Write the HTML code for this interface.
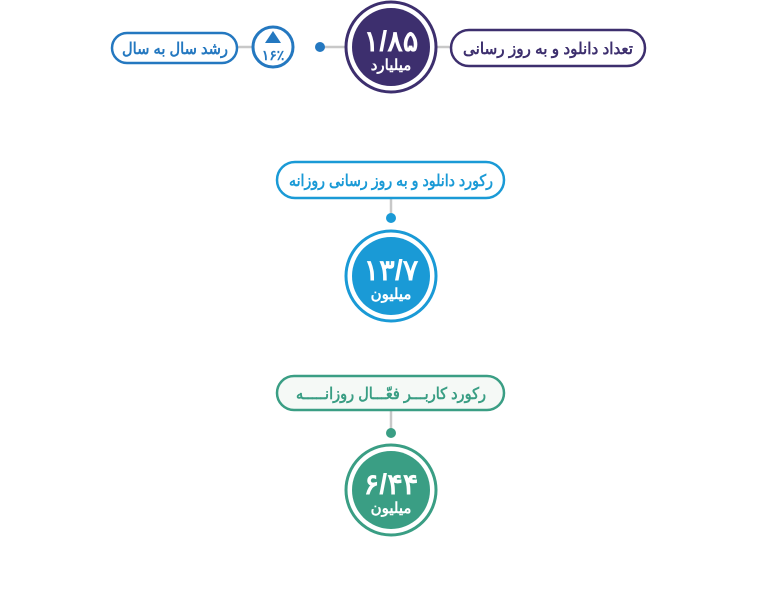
<!DOCTYPE html>
<html><head><meta charset="utf-8"><style>
html,body{margin:0;padding:0;background:#fff;}
svg{display:block;}
text{font-family:"Liberation Sans","Noto Sans CJK SC",sans-serif;font-weight:bold;}
</style></head><body>
<svg width="778" height="599" viewBox="0 0 778 599" xmlns="http://www.w3.org/2000/svg">
<line x1="237" y1="47" x2="254" y2="47" stroke="#c8c8c8" stroke-width="2.5"/>
<line x1="320" y1="47" x2="346" y2="47" stroke="#c8c8c8" stroke-width="2.5"/>
<line x1="436" y1="47" x2="451" y2="47" stroke="#c8c8c8" stroke-width="2.5"/>
<circle cx="320" cy="47" r="5" fill="#2478c0"/>
<rect x="112" y="33" width="125" height="30" rx="15" fill="#fff" stroke="#2478c0" stroke-width="2.5"/>
<text x="175" y="54" font-size="16" fill="#2478c0" text-anchor="middle" direction="rtl" textLength="106" lengthAdjust="spacingAndGlyphs">رشد سال به سال</text>
<circle cx="273" cy="47" r="20" fill="#fff" stroke="#2478c0" stroke-width="3"/>
<polygon points="273,31 265,43 281,43" fill="#2478c0"/>
<text x="273" y="60" font-size="14" fill="#2478c0" text-anchor="middle">۱۶٪</text>
<circle cx="391" cy="47" r="45" fill="#fff" stroke="#3d2f6e" stroke-width="3"/>
<circle cx="391" cy="47" r="39" fill="#3d2f6e"/>
<text x="391" y="51" font-size="29" fill="#fff" text-anchor="middle">۱/۸۵</text>
<text x="391" y="70" font-size="15" fill="#fff" text-anchor="middle">میلیارد</text>
<rect x="451" y="30" width="194" height="36" rx="18" fill="#fff" stroke="#3d2f6e" stroke-width="2.5"/>
<text x="548" y="54" font-size="16" fill="#3d2f6e" text-anchor="middle" direction="rtl" textLength="170" lengthAdjust="spacingAndGlyphs">تعداد دانلود و به روز رسانی</text>

<line x1="391" y1="198" x2="391" y2="218" stroke="#c8c8c8" stroke-width="2.5"/>
<circle cx="391" cy="218" r="5" fill="#1a9ad6"/>
<rect x="277" y="162" width="227" height="36" rx="18" fill="#fff" stroke="#1a9ad6" stroke-width="2.5"/>
<text x="391" y="186" font-size="16" fill="#1a9ad6" text-anchor="middle" direction="rtl" textLength="204" lengthAdjust="spacingAndGlyphs">رکورد دانلود و به روز رسانی روزانه</text>
<circle cx="391" cy="276" r="45" fill="#fff" stroke="#1a9ad6" stroke-width="3"/>
<circle cx="391" cy="276" r="39" fill="#1a9ad6"/>
<text x="391" y="280" font-size="29" fill="#fff" text-anchor="middle">۱۳/۷</text>
<text x="391" y="299" font-size="15" fill="#fff" text-anchor="middle">میلیون</text>

<line x1="391" y1="410" x2="391" y2="433" stroke="#c8c8c8" stroke-width="2.5"/>
<circle cx="391" cy="433" r="5" fill="#3a9e84"/>
<rect x="277" y="376" width="227" height="34" rx="17" fill="#f5f9f6" stroke="#3a9e84" stroke-width="2.5"/>
<text x="391" y="399" font-size="16" fill="#3a9e84" text-anchor="middle" direction="rtl" textLength="190" lengthAdjust="spacingAndGlyphs">رکورد کاربـــر فعّـــال روزانـــــه</text>
<circle cx="391" cy="490" r="45" fill="#fff" stroke="#3a9e84" stroke-width="3"/>
<circle cx="391" cy="490" r="39" fill="#3a9e84"/>
<text x="391" y="494" font-size="29" fill="#fff" text-anchor="middle">۶/۴۴</text>
<text x="391" y="513" font-size="15" fill="#fff" text-anchor="middle">میلیون</text>
</svg>
</body></html>
